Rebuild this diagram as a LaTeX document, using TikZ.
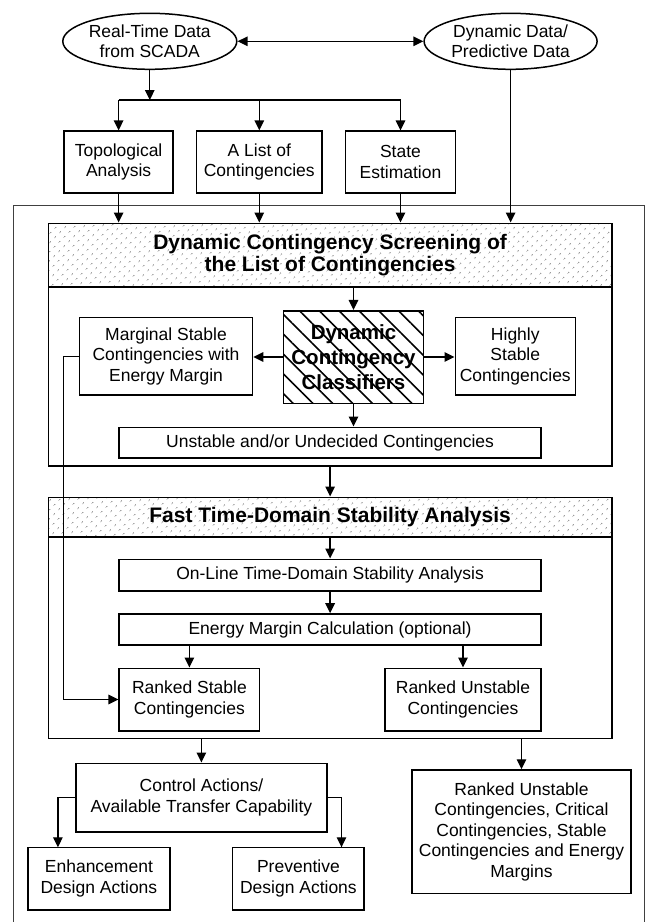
\documentclass[tikz,border=0pt]{standalone}
\usepackage{fontspec}
\setmainfont{Liberation Sans}
\usetikzlibrary{shapes.geometric,arrows.meta,patterns.meta}

\begin{document}
\begin{tikzpicture}[x=1pt, y=-1pt, line width=1.3pt, >={Triangle[length=10pt,width=9.5pt]},
  every node/.style={inner sep=0pt, align=center, font=\fontsize{17.5}{20.5}\selectfont},
  box/.style={draw, rectangle, line width=1.6pt},
  oval/.style={draw, ellipse, line width=1.5pt},
  headbox/.style={box, pattern={Dots[distance=6.5pt, angle=45, radius=0.7pt]}, pattern color=black!85,
    font=\fontsize{21}{21.5}\selectfont\bfseries},
  hatchbox/.style={box, pattern={Lines[angle=-45, distance=14pt, line width=1.6pt]},
    font=\fontsize{20.5}{25}\selectfont\bfseries}]
  \useasboundingbox (0,0) rectangle (647,922);
  % frame
  \draw[line width=0.7pt, black!75] (13,922) -- (13,205) -- (644,205) -- (644,922);

  % data sources
  \node[oval, minimum width=174, minimum height=56] (rtd) at (149.8,41.3) {Real-Time Data\\from SCADA};
  \node[oval, minimum width=173, minimum height=56] (dyn) at (510.6,41.3) {Dynamic Data/\\Predictive Data};
  \node[box, minimum width=109, minimum height=62] (topo) at (118.6,162.2) {Topological\\Analysis};
  \node[box, minimum width=125.4, minimum height=62] (list) at (259.3,162.2) {A List of\\Contingencies};
  \node[box, minimum width=109.7, minimum height=62] (state) at (400.5,162.2) {State\\Estimation};
  \coordinate (split) at (259.3,100);

  % screening
  \node[headbox, minimum width=563.4, minimum height=63.4] (scrhd) at (330.1,255) {Dynamic Contingency Screening of\\the List of Contingencies};
  \node[box, minimum width=563.4, minimum height=179.3] (scr) at (330.1,376.35) {};
  \node[hatchbox, minimum width=140, minimum height=92.6] (clas) at (353.5,357) {Dynamic\\Contingency\\Classifiers};
  \node[box, minimum width=173, minimum height=77.3] (marg) at (166,356.3) {Marginal Stable\\Contingencies with\\Energy Margin};
  \node[box, minimum width=120, minimum height=77.3] (high) at (515.3,356.3) {Highly\\Stable\\Contingencies};
  \node[box, minimum width=421.8, minimum height=30.4] (unst) at (330.1,442.5) {Unstable and/or Undecided Contingencies};

  % time domain analysis
  \node[headbox, minimum width=563.4, minimum height=39.4] (ftdhd) at (330.1,517) {Fast Time-Domain Stability Analysis};
  \node[box, minimum width=563.4, minimum height=201.6] (ftd) at (330.1,637.5) {};
  \node[box, minimum width=421.8, minimum height=31.4] (online) at (330.1,575) {On-Line Time-Domain Stability Analysis};
  \node[box, minimum width=421.8, minimum height=31] (emc) at (330.1,629.5) {Energy Margin Calculation (optional)};
  \node[box, minimum width=140.3, minimum height=62.4] (rstab) at (189.4,699.5) {Ranked Stable\\Contingencies};
  \node[box, minimum width=156, minimum height=62.4] (runst) at (463,699.5) {Ranked Unstable\\Contingencies};

  % results
  \node[box, minimum width=251.3, minimum height=68.4] (ca) at (201.4,797.5) {Control Actions/\\Available Transfer Capability};
  \node[box, minimum width=141.6, minimum height=62.7] (enh) at (98.9,878.7) {Enhancement\\Design Actions};
  \node[box, minimum width=131.6, minimum height=62.7] (prev) at (298.4,878.7) {Preventive\\Design Actions};
  \node[box, minimum width=219.4, minimum height=123.3] (final) at (521.5,831.7) {Ranked Unstable\\Contingencies, Critical\\Contingencies, Stable\\Contingencies and Energy\\Margins};
  \coordinate (enhin) at (57.9,847.3);
  \coordinate (previn) at (341.5,847.3);

  \draw[<->] (rtd) -- (dyn);
  \draw[->] (rtd.south) -- (rtd.south |- split);
  \draw (topo.north |- split) -- (state.north |- split);
  \foreach \n in {topo,list,state} {
    \draw[->] (\n.north |- split) -- (\n.north);
    \draw[->] (\n.south) -- (\n.south |- scrhd.north);
  }
  \draw[->] (dyn.south) -- (dyn.south |- scrhd.north);
  \draw[->] (scrhd.south -| clas.north) -- (clas.north);
  \draw[->] (clas.west) -- (clas.west -| marg.east);
  \draw[->] (clas.east) -- (clas.east -| high.west);
  \draw[->] (clas.south) -- (clas.south |- unst.north);
  \draw[->] (scr.south) -- (ftdhd.north);
  \draw[->] (ftdhd.south) -- (online.north);
  \draw[->] (online) -- (emc);
  \draw[->] (emc.south -| rstab.north) -- (rstab.north);
  \draw[->] (emc.south -| runst.north) -- (runst.north);
  \draw[->] (marg.west) -- ++(-15.3,0) |- (rstab.west);
  \draw[->] (ftd.south -| ca.north) -- (ca.north);
  \draw[->] (ftd.south -| final.north) -- (final.north);
  \draw[->] (ca.west) -| (enhin);
  \draw[->] (ca.east) -| (previn);
\end{tikzpicture}
\end{document}
